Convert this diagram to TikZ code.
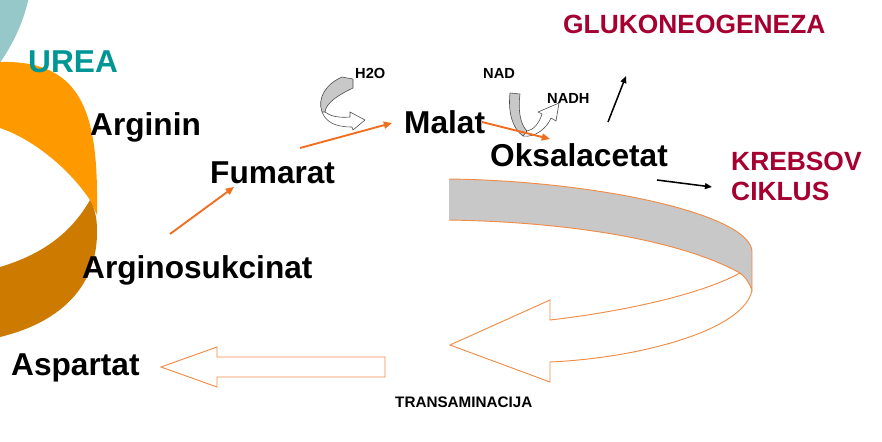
\documentclass[tikz,border=0pt]{standalone}
\usepackage{fontspec}
\setmainfont{Liberation Sans}
\usepackage{xcolor}
\usepackage{tikz}
\usetikzlibrary{arrows.meta,calc}
\definecolor{ureateal}{RGB}{0,150,150}
\definecolor{ureaball}{RGB}{150,200,202}
\definecolor{ringlight}{RGB}{255,153,0}
\definecolor{ringdark}{RGB}{204,122,0}
\definecolor{rxnorange}{RGB}{240,110,30}
\definecolor{bandedge}{RGB}{240,140,70}
\definecolor{bandgrey}{RGB}{200,200,200}
\definecolor{fatered}{RGB}{166,0,48}

\begin{document}
\begin{tikzpicture}[x=0.03cm, y=-0.03cm, metab/.style={inner sep=0, anchor=base west, font=\fontsize{27}{32}\selectfont\bfseries}, cofac/.style={inner sep=0, anchor=base west, font=\fontsize{12.5}{15}\selectfont\bfseries}, fate/.style={inner sep=0, anchor=base west, font=\fontsize{22.5}{27}\selectfont\bfseries, text=fatered}, rxn/.style={-{Triangle[length=7pt,width=6pt]}, line width=1.6pt, rxnorange}, exit/.style={-{Triangle[length=6pt,width=5pt]}, line width=1.3pt, black}, band/.style={draw=bandedge, line width=0.8pt}, twist/.style={draw=black!70, line width=0.5pt}]
\useasboundingbox (0,0) rectangle (882,442);
\begin{scope}
\clip (0,0) rectangle (882,442);
\fill[ureaball] (-146,-41) circle (179);
\fill[ringlight] (0,62) .. controls (80,60) and (98,110) .. (97,205) -- (97,215) -- (90,200) .. controls (70,170) and (35,140) .. (0,128) -- cycle;
\fill[ringdark] (90,200) .. controls (70,235) and (40,255) .. (0,267) -- (0,337) .. controls (62,322) and (98,285) .. (97,230) .. controls (97,216) and (94,207) .. (90,200) -- cycle;
\end{scope}
\fill[bandgrey] (449,179) .. controls (600,181) and (752,215) .. (752,252) -- (752,290) .. controls (749,283) and (746,277) .. (740,273) .. controls (680,240) and (570,222) .. (449,220) -- cycle;
\draw[band] (449,179) .. controls (600,181) and (752,215) .. (752,252) -- (752,290) .. controls (749,283) and (746,277) .. (740,273) .. controls (680,240) and (570,222) .. (449,220);
\draw[band] (740,273) .. controls (700,295) and (620,312) .. (550,320) -- (550,300) -- (450,345) -- (550,382) -- (550,362) .. controls (640,358) and (745,330) .. (752,290);
\draw[band] (385,357) -- (217,357) -- (217,347) -- (161,367) -- (217,387) -- (217,377) -- (385,377) -- cycle;
\filldraw[twist, fill=white] (322,112) .. controls (326,122) and (335,127) .. (352,127) -- (353,130) -- (365,120) -- (350,112) -- (350,117) .. controls (338,118) and (330,116) .. (325,112);
\filldraw[twist, fill=bandgrey] (342,77) -- (353,79) -- (353,88) .. controls (338,95) and (326,103) .. (325,112) -- (322,112) .. controls (317,98) and (326,84) .. (342,77) -- cycle;
\filldraw[twist, fill=white] (523,136) .. controls (535,138) and (547,128) .. (551,118) -- (556,121) -- (559,103) -- (538,112) -- (542,114) .. controls (539,124) and (533,130) .. (527,131);
\filldraw[twist, fill=bandgrey] (510,93) -- (520,94) .. controls (518,110) and (520,124) .. (527,131) -- (523,136) .. controls (512,128) and (508,112) .. (510,93) -- cycle;
\node[metab, text=ureateal] (urea) at (28,72) {UREA};
\node[metab] (arginin) at (90,135) {Arginin};
\node[metab] (fumarat) at (210,183) {Fumarat};
\node[metab] (argsuk) at (82,278) {Arginosukcinat};
\node[metab] (aspartat) at (11,375) {Aspartat};
\node[metab] (malat) at (404,133) {Malat};
\node[metab] (oksal) at (490,166) {Oksalacetat};
\node[fate] (gluko) at (563,33) {GLUKONEOGENEZA};
\node[fate] (krebsov) at (731,170) {KREBSOV};
\node[fate] (ciklus) at (731,200) {CIKLUS};
\node[cofac] (water) at (355,78) {H2O};
\node[cofac] (nad) at (483,78) {NAD};
\node[cofac] (nadh) at (547,103) {NADH};
\node[cofac, font=\fontsize{13}{15}\selectfont\bfseries] (transam) at (395,407) {TRANSAMINACIJA};
\draw[rxn] ($(argsuk.base west)+(88,-44)$) -- ($(fumarat.base west)+(24,4)$); \draw[rxn] ($(fumarat.base west)+(90,-35)$) -- ($(malat.base west)+(-12,-10)$); \draw[rxn] ($(malat.base west)+(78,-11)$) -- ($(oksal.base west)+(60,-27)$);
\draw[exit] ($(oksal.base west)+(118,-44)$) -- ($(gluko.base west)+(63,43)$); \draw[exit] ($(oksal.base west)+(167,14)$) -- ($(krebsov.base west)+(-19,17)$);
\end{tikzpicture}
\end{document}
